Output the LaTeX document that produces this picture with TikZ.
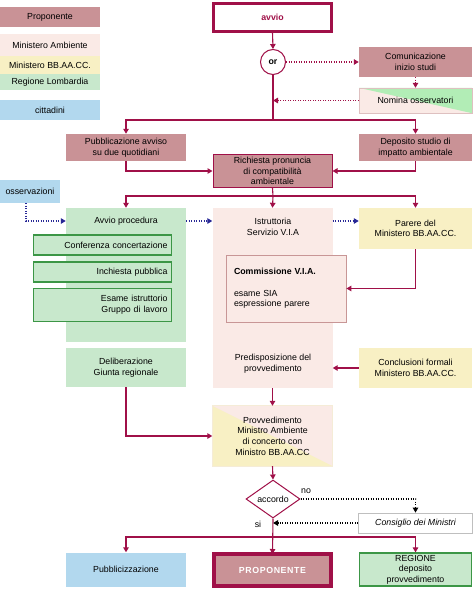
\documentclass[tikz,border=0pt]{standalone}
\usepackage{fontspec}
\setmainfont{Liberation Sans}
\usetikzlibrary{arrows.meta,shapes.geometric,calc}
\definecolor{crim}{RGB}{160,16,72}
\definecolor{rose}{RGB}{201,146,150}
\definecolor{pinkl}{RGB}{250,234,230}
\definecolor{yell}{RGB}{248,240,196}
\definecolor{grn}{RGB}{200,232,204}
\definecolor{grnd}{RGB}{60,150,70}
\definecolor{blu}{RGB}{178,216,238}
\definecolor{navy}{RGB}{40,40,150}
\definecolor{commb}{RGB}{200,150,150}
\newcommand{\fs}{\fontsize{8.8}{10.6}\selectfont}
\tikzset{
  base/.style={rectangle,inner sep=2pt,align=center,font=\fs},
  rosebox/.style={base,fill=rose},
  pinkbox/.style={base,fill=pinkl},
  yellbox/.style={base,fill=yell},
  grnbox/.style={base,fill=grn},
  blubox/.style={base,fill=blu},
  txt/.style={base,inner sep=0pt},
  gin/.style={base,fill=grn,draw=grnd,line width=1.2pt,text width=130pt,align=right,inner xsep=4pt},
  conn/.style={draw=crim,line width=1.1pt,-{Triangle[width=5.5pt,length=5pt]}},
  plain/.style={draw=crim,line width=1.1pt},
  dotr/.style={draw=crim,line width=1.1pt,dash pattern=on 1.1pt off 1.4pt,-{Triangle[width=5.5pt,length=5pt]}},
  dotn/.style={draw=navy,line width=1.1pt,dash pattern=on 1.1pt off 1.4pt,-{Triangle[width=5.5pt,length=5pt]}},
  dotk/.style={draw=black,line width=1.1pt,dash pattern=on 1.1pt off 1.4pt,-{Triangle[width=5.5pt,length=5pt]}},
}
\begin{document}
\begin{tikzpicture}[x=1pt,y=-1pt]
\useasboundingbox (0,0) rectangle (474,589);
% legend
\node[rosebox,minimum width=100,minimum height=20] (lprop) at (50,17) {Proponente};
\node[pinkbox,minimum width=100,minimum height=22] (lamb) at (50,45) {Ministero Ambiente};
\node[yellbox,minimum width=100,minimum height=18] (lbb) at (50,65) {Ministero BB.AA.CC.};
\node[grnbox,minimum width=100,minimum height=16] (lreg) at (50,82) {Regione  Lombardia};
\node[blubox,minimum width=100,minimum height=20] (lcit) at (50,110) {cittadini};
% top
\node[base,draw=crim,line width=3pt,fill=white,minimum width=118,minimum height=28,text=crim,font=\fs\bfseries] (avvio) at (272.5,17) {avvio};
\node[circle,draw=crim,line width=1pt,fill=white,minimum size=25,inner sep=0pt,font=\fs\bfseries] (or) at (273,62) {or};
\node[rosebox,minimum width=113,minimum height=30] (com) at (415.5,62) {Comunicazione\\inizio studi};
\node[base,minimum width=113,minimum height=25] (nomina) at (415.5,100.5) {};
\fill[pinkl] (nomina.north west) rectangle (nomina.south east);
\fill[grn!85!green!90!white] (nomina.north west) -- (nomina.north east) -- (nomina.south east) -- cycle;
\draw[commb!60,line width=0.6pt] (nomina.north west) rectangle (nomina.south east);
\node[txt] (nominat) at (nomina.center) {Nomina osservatori};
\node[rosebox,minimum width=120,minimum height=27] (pubbl) at (126,147.5) {Pubblicazione avviso\\su due  quotidiani};
\node[rosebox,minimum width=113,minimum height=27] (depo) at (415.5,147.5) {Deposito studio di\\impatto ambientale};
\node[rosebox,draw=crim,line width=1pt,minimum width=119,minimum height=33] (rich) at (272.5,171) {Richiesta pronuncia\\di compatibilità\\ambientale};
\node[blubox,minimum width=60,minimum height=23] (oss) at (30,191.5) {osservazioni};
% middle
\node[grnbox,minimum width=120,minimum height=134] (avviop) at (126,275) {};
\node[txt] (avviot) at (126,221) {Avvio procedura};
\node[gin,minimum height=20] (conf) at (102.5,245) {Conferenza concertazione};
\node[gin,minimum height=20] (inch) at (102.5,272) {Inchiesta pubblica};
\node[gin,minimum height=33] (esame) at (102.5,305) {Esame  istruttorio\\Gruppo  di  lavoro};
\node[grnbox,minimum width=120,minimum height=39] (delib) at (126,367.5) {Deliberazione\\Giunta regionale};
\node[pinkbox,minimum width=120,minimum height=180] (istr) at (272.5,298) {};
\node[txt] (istrt) at (273,227) {Istruttoria\\Servizio V.I.A};
\node[base,fill=pinkl,draw=commb,line width=0.8pt,minimum width=120,minimum height=67,text width=104pt,align=left,inner xsep=8pt] (comm) at (286,288.5) {\textbf{Commissione V.I.A.}\\[10.5pt]esame SIA\\espressione parere};
\node[txt] (predisp) at (273,364) {Predisposizione del\\provvedimento};
\node[yellbox,minimum width=113,minimum height=41] (parere) at (415.5,228.5) {Parere del\\Ministero BB.AA.CC.};
\node[yellbox,minimum width=113,minimum height=40] (concl) at (415.5,368) {Conclusioni formali\\Ministero BB.AA.CC.};
% bottom
\node[base,minimum width=120,minimum height=60] (provv) at (272.5,436) {};
\fill[pinkl] (provv.north west) rectangle (provv.south east);
\fill[yell] (provv.north west) -- (provv.south east) -- (provv.south west) -- cycle;
\draw[yell!70!brown!40!white,line width=0.8pt] (provv.north west) rectangle (provv.south east);
\node[txt] (provvt) at (provv.center) {Provvedimento\\Ministro Ambiente\\di concerto con\\Ministro BB.AA.CC};
\node[diamond,draw=crim,line width=1pt,fill=white,minimum width=54,minimum height=38,inner sep=0pt,aspect=1.4,font=\fs] (acc) at (273,499) {accordo};
\node[base,draw=black!25,line width=0.8pt,fill=white,minimum width=114,minimum height=20,font=\fs\itshape] (cons) at (415.5,523) {Consiglio dei Ministri};
\node[txt] (no) at (306,491) {no};
\node[txt] (si) at (258,524) {si};
\node[blubox,minimum width=120,minimum height=34] (pubz) at (126,569.5) {Pubblicizzazione};
\node[rosebox,draw=crim,line width=4pt,minimum width=117,minimum height=32,text=white,font=\fs\bfseries] (prop) at (272.5,570) {P\kern0.6pt R\kern0.6pt O\kern0.6pt P\kern0.6pt O\kern0.6pt N\kern0.6pt E\kern0.6pt N\kern0.6pt T\kern0.6pt E};
\node[grnbox,draw=grnd,line width=1.2pt,minimum width=112,minimum height=33,inner sep=1pt] (regione) at (415.5,569.5) {REGIONE\\deposito\\provvedimento};
% connectors
\coordinate (s1) at (273,120);
\coordinate (s2) at (273,196);
\coordinate (s3) at (273,537);
\draw[conn] (avvio.south) -- (or.north);
\draw[dotr] (or.east) -- (com.west);
\draw[dotr] (com.south) -- (nomina.north);
\coordinate (j1) at (or.south |- nomina.west);
\draw[dotr] (nomina.west) -- (j1);
\draw[plain] (or.south) -- (s1);
\draw[conn] (s1) -| (pubbl.north);
\draw[conn] (s1) -| (depo.north);
\draw[conn] (pubbl.south) |- (rich.west);
\draw[conn] (depo.south) |- (rich.east);
\draw[plain] (rich.south) -- (s2);
\draw[conn] (s2) -| (avviop.north);
\draw[conn] (s2) -- (istr.north);
\draw[conn] (s2) -| (parere.north);
\draw[dotn] ([xshift=-4pt]oss.south) |- (avviop.west |- avviot);
\draw[dotn] (avviop.east |- avviot) -- (istr.west |- avviot);
\draw[dotn] (istr.east |- avviot) -- (parere.west |- avviot);
\draw[conn] (parere.south) |- (comm.east);
\draw[conn] (concl.west) -- (istr.east |- concl.west);
\draw[conn] (istr.south) -- (provv.north);
\draw[conn] (delib.south) |- (provv.west);
\draw[conn] (provv.south) -- (acc.north);
\draw[dotk] (acc.east) -| (cons.north);
\coordinate (j2) at (acc.south |- cons.west);
\draw[dotk] (cons.west) -- (j2);
\draw[conn] (acc.south) -- ([yshift=-2pt]prop.north);
\draw[conn] (s3) -| (pubz.north);
\draw[conn] (s3) -| (regione.north);
\end{tikzpicture}
\end{document}
